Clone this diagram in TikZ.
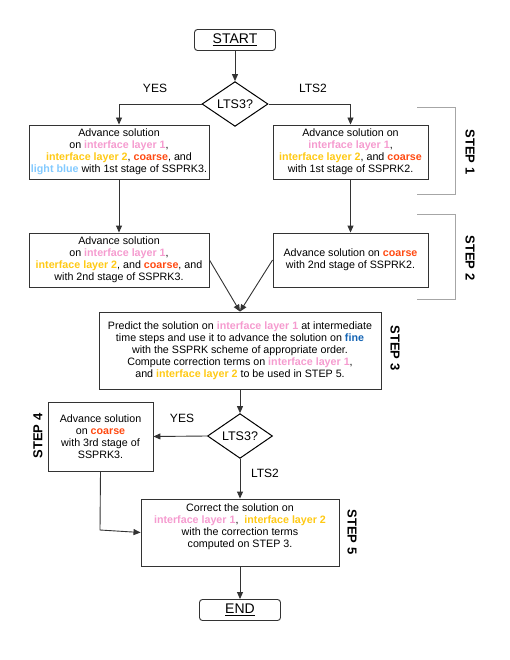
\documentclass[tikz,border=0pt]{standalone}
\usepackage{fontspec}
\setmainfont{Liberation Sans}
\usepackage{xcolor}
\usepackage{tikz}
\usetikzlibrary{arrows.meta,shapes.geometric}
\definecolor{pinkx}{HTML}{F59BCF}
\definecolor{yelx}{HTML}{FFC914}
\definecolor{orx}{HTML}{FF4A12}
\definecolor{lbluex}{HTML}{83CAFF}
\definecolor{finex}{HTML}{1464B4}
\definecolor{linex}{HTML}{333333}
\newcommand{\layone}{\textcolor{pinkx}{\textbf{interface layer 1}}}
\newcommand{\laytwo}{\textcolor{yelx}{\textbf{interface layer 2}}}
\newcommand{\crs}{\textcolor{orx}{\textbf{coarse}}}
\newcommand{\lblue}{\textcolor{lbluex}{\textbf{light blue}}}
\newcommand{\finez}{\textcolor{finex}{\textbf{fine}}}
\tikzset{
  box/.style={draw=linex,line width=0.9pt,align=center,inner sep=2pt,font=\fontsize{10.7}{12}\selectfont},
  term/.style={draw=linex,line width=0.9pt,rounded corners=3pt,minimum width=81pt,minimum height=21pt,inner sep=0pt,font=\fontsize{14}{16}\selectfont},
  dm/.style={diamond,draw=black,line width=1pt,minimum width=66pt,minimum height=38pt,inner sep=0pt,font=\fontsize{12.5}{14}\selectfont},
  ar/.style={-{Triangle[length=7pt,width=6pt]},line width=0.9pt,linex},
  lbl/.style={font=\fontsize{12}{14}\selectfont},
  stp/.style={font=\bfseries\fontsize{13}{15}\selectfont},
  brk/.style={gray!70,line width=0.8pt}
}
\begin{document}
\begin{tikzpicture}[x=1pt,y=-1pt]
\useasboundingbox (0,0) rectangle (510,660);
% start and first choice
\node[term] (start) at (235,40) {\underline{START}};
\node[dm] (lts1) at (235,104) {LTS3?};
\node[lbl] (yes1) at (155,88) {YES};
\node[lbl] (no1) at (313,88) {LTS2};
% step 1
\node[box,minimum width=180pt,minimum height=54pt] (s1a) at (119,152)
  {Advance solution\\ on \layone,\\ \laytwo, \crs, and\\ \lblue{} with 1st stage of SSPRK3.};
\node[box,minimum width=155pt,minimum height=54pt] (s1b) at (350.5,152)
  {Advance solution on\\ \layone,\\ \laytwo, and \crs\\ with 1st stage of SSPRK2.};
% step 2
\node[box,minimum width=180pt,minimum height=54pt] (s2a) at (119,260)
  {Advance solution\\ on \layone,\\ \laytwo, and \crs, and\\ with 2nd stage of SSPRK3.};
\node[box,minimum width=155pt,minimum height=54pt] (s2b) at (350.5,260)
  {Advance solution on \crs\\ with 2nd stage of SSPRK2.};
% step 3
\node[box,minimum width=282pt,minimum height=77pt] (s3) at (240,350.5)
  {Predict the solution on \layone{} at intermediate\\ time steps and use it to advance the solution on \finez\\ with the SSPRK scheme of appropriate order.\\ Compute correction terms on \layone,\\ and \laytwo{} to be used in STEP 5.};
\node[dm,minimum width=65pt] (lts2) at (240,436) {LTS3?};
\node[lbl] (yes2) at (182,418) {YES};
\node[lbl] (no2) at (265,473) {LTS2};
% step 4 and 5
\node[box,minimum width=105pt,minimum height=69pt] (s4) at (100.5,436.5)
  {Advance solution\\ on \crs\\ with 3rd stage of\\ SSPRK3.};
\node[box,minimum width=198pt,minimum height=67pt] (s5) at (240,532.5)
  {Correct the solution on\\ \layone,~ \laytwo\\ with the correction terms\\ computed on STEP 3.\\[2pt]};
\node[term] (end) at (240,610) {\underline{END}};
\coordinate (s4low) at (100,530);
% step labels
\node[stp,rotate=-90] (st1) at (470,152) {STEP 1};
\node[stp,rotate=-90] (st2) at (470,258) {STEP 2};
\node[stp,rotate=-90] (st3) at (395,348) {STEP 3};
\node[stp,rotate=90] (st4) at (38,436) {STEP 4};
\node[stp,rotate=-90] (st5) at (352,532) {STEP 5};
\draw[brk] (417,107) -| (455,194) -- (417,194);
\draw[brk] (417,214) -| (455,299) -- (417,299);
% connectors
\draw[ar] (start) -- (lts1);
\draw[ar] (lts1.west) -| (s1a.north);
\draw[ar] (lts1.east) -| (s1b.north);
\draw[ar] (s1a) -- (s2a);
\draw[ar] (s1b) -- (s2b);
\draw[ar] (s2a.east) -- (s3.north);
\draw[ar] (s2b.west) -- (s3.north);
\draw[ar] (s3) -- (lts2);
\draw[ar] (lts2.west) -- (s4.east);
\draw[ar] (lts2) -- (s5);
\draw[ar] (s4.south) -- (s4low) -- (s5.west);
\draw[ar] (s5) -- (end);
\end{tikzpicture}
\end{document}
